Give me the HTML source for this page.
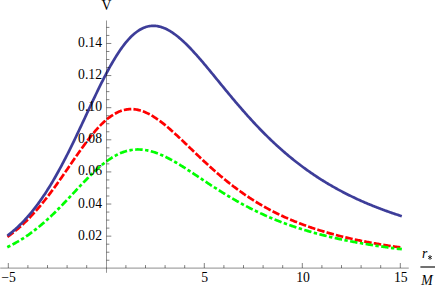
<!DOCTYPE html><html><head><meta charset="utf-8"><title>V</title><style>
html,body{margin:0;padding:0;background:#fff;}
body{width:436px;height:287px;overflow:hidden;position:relative;font-family:"Liberation Serif",serif;}
svg{position:absolute;left:0;top:0;display:block;}
</style></head><body>
<svg width="436" height="287" viewBox="0 0 436 287">
<rect width="436" height="287" fill="#fff"/>
<path d="M8.50,236.11 L9.48,235.40 L10.46,234.68 L11.44,233.94 L12.42,233.19 L13.40,232.42 L14.38,231.65 L15.36,230.85 L16.34,230.05 L17.32,229.23 L18.30,228.39 L19.28,227.54 L20.26,226.68 L21.24,225.80 L22.22,224.90 L23.20,224.00 L24.18,223.07 L25.16,222.13 L26.14,221.18 L27.12,220.21 L28.10,219.23 L29.08,218.23 L30.06,217.22 L31.04,216.19 L32.02,215.15 L33.00,214.09 L33.98,213.02 L34.96,211.93 L35.94,210.83 L36.92,209.71 L37.90,208.58 L38.88,207.43 L39.86,206.27 L40.84,205.10 L41.82,203.91 L42.80,202.71 L43.78,201.49 L44.76,200.26 L45.74,199.02 L46.72,197.76 L47.70,196.50 L48.68,195.22 L49.66,193.93 L50.64,192.62 L51.62,191.31 L52.60,189.98 L53.58,188.65 L54.56,187.30 L55.54,185.95 L56.52,184.59 L57.50,183.22 L58.48,181.84 L59.46,180.45 L60.44,179.05 L61.42,177.65 L62.40,176.25 L63.38,174.84 L64.36,173.42 L65.34,172.00 L66.32,170.58 L67.30,169.16 L68.28,167.73 L69.26,166.30 L70.24,164.88 L71.22,163.45 L72.20,162.02 L73.18,160.60 L74.16,159.18 L75.14,157.77 L76.12,156.35 L77.10,154.95 L78.08,153.55 L79.06,152.16 L80.04,150.77 L81.02,149.40 L82.00,148.03 L82.98,146.68 L83.96,145.34 L84.94,144.01 L85.92,142.69 L86.90,141.39 L87.88,140.10 L88.86,138.83 L89.84,137.58 L90.82,136.34 L91.80,135.12 L92.78,133.93 L93.76,132.75 L94.74,131.59 L95.72,130.46 L96.70,129.35 L97.68,128.26 L98.66,127.20 L99.64,126.16 L100.62,125.15 L101.60,124.16 L102.58,123.21 L103.56,122.28 L104.54,121.37 L105.52,120.50 L106.50,119.66 L107.48,118.84 L108.46,118.06 L109.44,117.31 L110.42,116.59 L111.40,115.90 L112.38,115.25 L113.36,114.62 L114.34,114.03 L115.32,113.48 L116.30,112.95 L117.28,112.46 L118.26,112.00 L119.24,111.58 L120.22,111.19 L121.20,110.84 L122.18,110.51 L123.16,110.23 L124.14,109.97 L125.12,109.75 L126.10,109.57 L127.08,109.41 L128.06,109.29 L129.04,109.21 L130.02,109.15 L131.00,109.13 L131.98,109.14 L132.96,109.19 L133.94,109.26 L134.92,109.37 L135.90,109.50 L136.88,109.67 L137.86,109.87 L138.84,110.09 L139.82,110.35 L140.80,110.63 L141.78,110.94 L142.76,111.28 L143.74,111.65 L144.72,112.04 L145.70,112.46 L146.68,112.90 L147.66,113.37 L148.64,113.86 L149.62,114.37 L150.60,114.91 L151.58,115.47 L152.56,116.05 L153.54,116.65 L154.52,117.27 L155.50,117.91 L156.48,118.57 L157.46,119.24 L158.44,119.93 L159.42,120.65 L160.40,121.37 L161.38,122.11 L162.36,122.87 L163.34,123.64 L164.32,124.42 L165.30,125.22 L166.28,126.03 L167.26,126.85 L168.24,127.68 L169.22,128.53 L170.20,129.38 L171.18,130.24 L172.16,131.11 L173.14,131.99 L174.12,132.88 L175.10,133.77 L176.08,134.67 L177.06,135.57 L178.04,136.49 L179.02,137.40 L180.00,138.32 L180.98,139.25 L181.96,140.18 L182.94,141.11 L183.92,142.05 L184.90,142.98 L185.88,143.92 L186.86,144.86 L187.84,145.80 L188.82,146.75 L189.80,147.69 L190.78,148.63 L191.76,149.58 L192.74,150.52 L193.72,151.46 L194.70,152.40 L195.68,153.34 L196.66,154.28 L197.64,155.21 L198.62,156.15 L199.60,157.08 L200.58,158.00 L201.56,158.93 L202.54,159.85 L203.52,160.77 L204.50,161.68 L205.48,162.59 L206.46,163.50 L207.44,164.40 L208.42,165.30 L209.40,166.19 L210.38,167.08 L211.36,167.96 L212.34,168.84 L213.32,169.71 L214.30,170.58 L215.28,171.44 L216.26,172.30 L217.24,173.15 L218.22,174.00 L219.20,174.84 L220.18,175.67 L221.16,176.50 L222.14,177.32 L223.12,178.14 L224.10,178.95 L225.08,179.75 L226.06,180.55 L227.04,181.34 L228.02,182.13 L229.00,182.91 L229.98,183.68 L230.96,184.45 L231.94,185.21 L232.92,185.96 L233.90,186.71 L234.88,187.45 L235.86,188.19 L236.84,188.92 L237.82,189.64 L238.80,190.35 L239.78,191.06 L240.76,191.76 L241.74,192.46 L242.72,193.15 L243.70,193.83 L244.68,194.51 L245.66,195.18 L246.64,195.85 L247.62,196.50 L248.60,197.15 L249.58,197.80 L250.56,198.44 L251.54,199.07 L252.52,199.70 L253.50,200.32 L254.48,200.93 L255.46,201.54 L256.44,202.15 L257.42,202.74 L258.40,203.33 L259.38,203.92 L260.36,204.50 L261.34,205.07 L262.32,205.64 L263.30,206.20 L264.28,206.75 L265.26,207.30 L266.24,207.85 L267.22,208.39 L268.20,208.92 L269.18,209.45 L270.16,209.97 L271.14,210.49 L272.12,211.00 L273.10,211.50 L274.08,212.00 L275.06,212.50 L276.04,212.99 L277.02,213.48 L278.00,213.96 L278.98,214.43 L279.96,214.90 L280.94,215.37 L281.92,215.83 L282.90,216.28 L283.88,216.73 L284.86,217.18 L285.84,217.62 L286.82,218.06 L287.80,218.49 L288.78,218.92 L289.76,219.34 L290.74,219.76 L291.72,220.18 L292.70,220.59 L293.68,220.99 L294.66,221.39 L295.64,221.79 L296.62,222.18 L297.60,222.57 L298.58,222.96 L299.56,223.34 L300.54,223.71 L301.52,224.09 L302.50,224.46 L303.48,224.82 L304.46,225.18 L305.44,225.54 L306.42,225.89 L307.40,226.24 L308.38,226.59 L309.36,226.93 L310.34,227.27 L311.32,227.61 L312.30,227.94 L313.28,228.27 L314.26,228.59 L315.24,228.91 L316.22,229.23 L317.20,229.55 L318.18,229.86 L319.16,230.17 L320.14,230.47 L321.12,230.77 L322.10,231.07 L323.08,231.37 L324.06,231.66 L325.04,231.95 L326.02,232.24 L327.00,232.52 L327.98,232.80 L328.96,233.08 L329.94,233.36 L330.92,233.63 L331.90,233.90 L332.88,234.16 L333.86,234.43 L334.84,234.69 L335.82,234.95 L336.80,235.20 L337.78,235.46 L338.76,235.71 L339.74,235.96 L340.72,236.20 L341.70,236.45 L342.68,236.69 L343.66,236.93 L344.64,237.16 L345.62,237.40 L346.60,237.63 L347.58,237.86 L348.56,238.08 L349.54,238.31 L350.52,238.53 L351.50,238.75 L352.48,238.97 L353.46,239.18 L354.44,239.40 L355.42,239.61 L356.40,239.82 L357.38,240.03 L358.36,240.23 L359.34,240.44 L360.32,240.64 L361.30,240.84 L362.28,241.03 L363.26,241.23 L364.24,241.42 L365.22,241.62 L366.20,241.81 L367.18,241.99 L368.16,242.18 L369.14,242.36 L370.12,242.55 L371.10,242.73 L372.08,242.91 L373.06,243.09 L374.04,243.26 L375.02,243.44 L376.00,243.61 L376.98,243.78 L377.96,243.95 L378.94,244.12 L379.92,244.28 L380.90,244.45 L381.88,244.61 L382.86,244.77 L383.84,244.93 L384.82,245.09 L385.80,245.25 L386.78,245.40 L387.76,245.56 L388.74,245.71 L389.72,245.86 L390.70,246.01 L391.68,246.16 L392.66,246.31 L393.64,246.45 L394.62,246.60 L395.60,246.74 L396.58,246.88 L397.56,247.02 L398.54,247.16 L399.52,247.30 L400.50,247.44" stroke="#ff0000" stroke-width="2.70" fill="none" stroke-linecap="square" stroke-dasharray="4.84 4.84"/>
<path d="M8.50,246.57 L9.48,246.09 L10.46,245.59 L11.44,245.09 L12.42,244.58 L13.40,244.06 L14.38,243.53 L15.36,242.99 L16.34,242.44 L17.32,241.88 L18.30,241.31 L19.28,240.72 L20.26,240.13 L21.24,239.53 L22.22,238.92 L23.20,238.30 L24.18,237.66 L25.16,237.02 L26.14,236.36 L27.12,235.70 L28.10,235.02 L29.08,234.33 L30.06,233.63 L31.04,232.92 L32.02,232.20 L33.00,231.47 L33.98,230.73 L34.96,229.98 L35.94,229.21 L36.92,228.44 L37.90,227.65 L38.88,226.86 L39.86,226.05 L40.84,225.23 L41.82,224.40 L42.80,223.56 L43.78,222.71 L44.76,221.85 L45.74,220.98 L46.72,220.10 L47.70,219.21 L48.68,218.31 L49.66,217.40 L50.64,216.48 L51.62,215.56 L52.60,214.62 L53.58,213.68 L54.56,212.72 L55.54,211.76 L56.52,210.79 L57.50,209.81 L58.48,208.83 L59.46,207.84 L60.44,206.84 L61.42,205.83 L62.40,204.82 L63.38,203.81 L64.36,202.78 L65.34,201.76 L66.32,200.73 L67.30,199.69 L68.28,198.66 L69.26,197.62 L70.24,196.57 L71.22,195.53 L72.20,194.48 L73.18,193.43 L74.16,192.39 L75.14,191.34 L76.12,190.29 L77.10,189.24 L78.08,188.20 L79.06,187.16 L80.04,186.12 L81.02,185.08 L82.00,184.05 L82.98,183.03 L83.96,182.00 L84.94,180.99 L85.92,179.98 L86.90,178.98 L87.88,177.99 L88.86,177.00 L89.84,176.02 L90.82,175.06 L91.80,174.10 L92.78,173.16 L93.76,172.22 L94.74,171.30 L95.72,170.39 L96.70,169.49 L97.68,168.61 L98.66,167.75 L99.64,166.89 L100.62,166.06 L101.60,165.24 L102.58,164.43 L103.56,163.64 L104.54,162.87 L105.52,162.12 L106.50,161.39 L107.48,160.68 L108.46,159.98 L109.44,159.31 L110.42,158.66 L111.40,158.02 L112.38,157.41 L113.36,156.82 L114.34,156.25 L115.32,155.70 L116.30,155.18 L117.28,154.67 L118.26,154.19 L119.24,153.74 L120.22,153.30 L121.20,152.89 L122.18,152.50 L123.16,152.14 L124.14,151.80 L125.12,151.48 L126.10,151.18 L127.08,150.91 L128.06,150.67 L129.04,150.44 L130.02,150.24 L131.00,150.07 L131.98,149.91 L132.96,149.78 L133.94,149.67 L134.92,149.59 L135.90,149.53 L136.88,149.49 L137.86,149.47 L138.84,149.48 L139.82,149.50 L140.80,149.55 L141.78,149.62 L142.76,149.71 L143.74,149.82 L144.72,149.95 L145.70,150.10 L146.68,150.28 L147.66,150.47 L148.64,150.68 L149.62,150.90 L150.60,151.15 L151.58,151.41 L152.56,151.69 L153.54,151.99 L154.52,152.31 L155.50,152.64 L156.48,152.99 L157.46,153.35 L158.44,153.72 L159.42,154.12 L160.40,154.52 L161.38,154.94 L162.36,155.37 L163.34,155.82 L164.32,156.28 L165.30,156.74 L166.28,157.23 L167.26,157.72 L168.24,158.22 L169.22,158.73 L170.20,159.26 L171.18,159.79 L172.16,160.33 L173.14,160.88 L174.12,161.44 L175.10,162.00 L176.08,162.57 L177.06,163.15 L178.04,163.74 L179.02,164.33 L180.00,164.93 L180.98,165.54 L181.96,166.15 L182.94,166.76 L183.92,167.38 L184.90,168.01 L185.88,168.63 L186.86,169.26 L187.84,169.90 L188.82,170.54 L189.80,171.18 L190.78,171.82 L191.76,172.46 L192.74,173.11 L193.72,173.76 L194.70,174.41 L195.68,175.06 L196.66,175.71 L197.64,176.36 L198.62,177.01 L199.60,177.67 L200.58,178.32 L201.56,178.97 L202.54,179.62 L203.52,180.27 L204.50,180.92 L205.48,181.57 L206.46,182.22 L207.44,182.87 L208.42,183.51 L209.40,184.16 L210.38,184.80 L211.36,185.44 L212.34,186.08 L213.32,186.71 L214.30,187.35 L215.28,187.98 L216.26,188.61 L217.24,189.23 L218.22,189.86 L219.20,190.48 L220.18,191.09 L221.16,191.71 L222.14,192.32 L223.12,192.93 L224.10,193.53 L225.08,194.13 L226.06,194.73 L227.04,195.32 L228.02,195.91 L229.00,196.50 L229.98,197.08 L230.96,197.66 L231.94,198.24 L232.92,198.81 L233.90,199.38 L234.88,199.94 L235.86,200.50 L236.84,201.06 L237.82,201.61 L238.80,202.16 L239.78,202.71 L240.76,203.25 L241.74,203.78 L242.72,204.32 L243.70,204.84 L244.68,205.37 L245.66,205.89 L246.64,206.40 L247.62,206.91 L248.60,207.42 L249.58,207.93 L250.56,208.43 L251.54,208.92 L252.52,209.41 L253.50,209.90 L254.48,210.38 L255.46,210.86 L256.44,211.33 L257.42,211.81 L258.40,212.27 L259.38,212.73 L260.36,213.19 L261.34,213.65 L262.32,214.10 L263.30,214.54 L264.28,214.99 L265.26,215.43 L266.24,215.86 L267.22,216.29 L268.20,216.72 L269.18,217.14 L270.16,217.56 L271.14,217.97 L272.12,218.39 L273.10,218.79 L274.08,219.20 L275.06,219.60 L276.04,219.99 L277.02,220.39 L278.00,220.77 L278.98,221.16 L279.96,221.54 L280.94,221.92 L281.92,222.29 L282.90,222.67 L283.88,223.03 L284.86,223.40 L285.84,223.76 L286.82,224.11 L287.80,224.47 L288.78,224.82 L289.76,225.17 L290.74,225.51 L291.72,225.85 L292.70,226.19 L293.68,226.52 L294.66,226.85 L295.64,227.18 L296.62,227.50 L297.60,227.83 L298.58,228.14 L299.56,228.46 L300.54,228.77 L301.52,229.08 L302.50,229.39 L303.48,229.69 L304.46,229.99 L305.44,230.29 L306.42,230.58 L307.40,230.87 L308.38,231.16 L309.36,231.45 L310.34,231.73 L311.32,232.01 L312.30,232.29 L313.28,232.56 L314.26,232.84 L315.24,233.11 L316.22,233.37 L317.20,233.64 L318.18,233.90 L319.16,234.16 L320.14,234.42 L321.12,234.67 L322.10,234.93 L323.08,235.18 L324.06,235.42 L325.04,235.67 L326.02,235.91 L327.00,236.15 L327.98,236.39 L328.96,236.62 L329.94,236.86 L330.92,237.09 L331.90,237.32 L332.88,237.55 L333.86,237.77 L334.84,237.99 L335.82,238.21 L336.80,238.43 L337.78,238.65 L338.76,238.86 L339.74,239.08 L340.72,239.29 L341.70,239.49 L342.68,239.70 L343.66,239.91 L344.64,240.11 L345.62,240.31 L346.60,240.51 L347.58,240.70 L348.56,240.90 L349.54,241.09 L350.52,241.28 L351.50,241.47 L352.48,241.66 L353.46,241.85 L354.44,242.03 L355.42,242.21 L356.40,242.39 L357.38,242.57 L358.36,242.75 L359.34,242.93 L360.32,243.10 L361.30,243.27 L362.28,243.45 L363.26,243.62 L364.24,243.78 L365.22,243.95 L366.20,244.12 L367.18,244.28 L368.16,244.44 L369.14,244.60 L370.12,244.76 L371.10,244.92 L372.08,245.07 L373.06,245.23 L374.04,245.38 L375.02,245.53 L376.00,245.69 L376.98,245.83 L377.96,245.98 L378.94,246.13 L379.92,246.27 L380.90,246.42 L381.88,246.56 L382.86,246.70 L383.84,246.84 L384.82,246.98 L385.80,247.12 L386.78,247.26 L387.76,247.39 L388.74,247.53 L389.72,247.66 L390.70,247.79 L391.68,247.92 L392.66,248.05 L393.64,248.18 L394.62,248.31 L395.60,248.43 L396.58,248.56 L397.56,248.68 L398.54,248.80 L399.52,248.93 L400.50,249.05" stroke="#00ff00" stroke-width="2.70" fill="none" stroke-linecap="square" stroke-dasharray="0.70 5.15 4.75 5.15"/>
<path d="M8.50,234.88 L9.48,234.12 L10.46,233.33 L11.44,232.53 L12.42,231.72 L13.40,230.88 L14.38,230.03 L15.36,229.17 L16.34,228.28 L17.32,227.38 L18.30,226.46 L19.28,225.52 L20.26,224.57 L21.24,223.59 L22.22,222.60 L23.20,221.59 L24.18,220.56 L25.16,219.50 L26.14,218.43 L27.12,217.34 L28.10,216.23 L29.08,215.10 L30.06,213.95 L31.04,212.78 L32.02,211.58 L33.00,210.37 L33.98,209.14 L34.96,207.88 L35.94,206.60 L36.92,205.30 L37.90,203.98 L38.88,202.64 L39.86,201.28 L40.84,199.89 L41.82,198.49 L42.80,197.06 L43.78,195.61 L44.76,194.13 L45.74,192.64 L46.72,191.12 L47.70,189.58 L48.68,188.02 L49.66,186.44 L50.64,184.84 L51.62,183.21 L52.60,181.57 L53.58,179.90 L54.56,178.21 L55.54,176.50 L56.52,174.78 L57.50,173.03 L58.48,171.26 L59.46,169.47 L60.44,167.66 L61.42,165.83 L62.40,163.99 L63.38,162.12 L64.36,160.24 L65.34,158.34 L66.32,156.43 L67.30,154.50 L68.28,152.55 L69.26,150.59 L70.24,148.61 L71.22,146.62 L72.20,144.61 L73.18,142.60 L74.16,140.57 L75.14,138.53 L76.12,136.48 L77.10,134.42 L78.08,132.35 L79.06,130.28 L80.04,128.20 L81.02,126.11 L82.00,124.02 L82.98,121.92 L83.96,119.82 L84.94,117.72 L85.92,115.62 L86.90,113.51 L87.88,111.41 L88.86,109.31 L89.84,107.21 L90.82,105.12 L91.80,103.03 L92.78,100.95 L93.76,98.88 L94.74,96.82 L95.72,94.76 L96.70,92.72 L97.68,90.69 L98.66,88.68 L99.64,86.67 L100.62,84.69 L101.60,82.72 L102.58,80.77 L103.56,78.84 L104.54,76.93 L105.52,75.04 L106.50,73.17 L107.48,71.33 L108.46,69.51 L109.44,67.72 L110.42,65.96 L111.40,64.22 L112.38,62.52 L113.36,60.84 L114.34,59.20 L115.32,57.58 L116.30,56.00 L117.28,54.46 L118.26,52.95 L119.24,51.47 L120.22,50.03 L121.20,48.63 L122.18,47.27 L123.16,45.94 L124.14,44.65 L125.12,43.41 L126.10,42.20 L127.08,41.04 L128.06,39.91 L129.04,38.83 L130.02,37.79 L131.00,36.79 L131.98,35.84 L132.96,34.93 L133.94,34.06 L134.92,33.23 L135.90,32.45 L136.88,31.72 L137.86,31.02 L138.84,30.37 L139.82,29.77 L140.80,29.21 L141.78,28.69 L142.76,28.22 L143.74,27.79 L144.72,27.40 L145.70,27.05 L146.68,26.75 L147.66,26.49 L148.64,26.28 L149.62,26.10 L150.60,25.97 L151.58,25.88 L152.56,25.83 L153.54,25.82 L154.52,25.84 L155.50,25.91 L156.48,26.02 L157.46,26.16 L158.44,26.34 L159.42,26.56 L160.40,26.81 L161.38,27.10 L162.36,27.43 L163.34,27.79 L164.32,28.18 L165.30,28.60 L166.28,29.06 L167.26,29.55 L168.24,30.07 L169.22,30.62 L170.20,31.20 L171.18,31.80 L172.16,32.44 L173.14,33.10 L174.12,33.79 L175.10,34.50 L176.08,35.24 L177.06,36.01 L178.04,36.79 L179.02,37.60 L180.00,38.43 L180.98,39.28 L181.96,40.16 L182.94,41.05 L183.92,41.96 L184.90,42.89 L185.88,43.84 L186.86,44.80 L187.84,45.78 L188.82,46.78 L189.80,47.79 L190.78,48.81 L191.76,49.85 L192.74,50.90 L193.72,51.96 L194.70,53.04 L195.68,54.13 L196.66,55.22 L197.64,56.33 L198.62,57.45 L199.60,58.57 L200.58,59.70 L201.56,60.84 L202.54,61.99 L203.52,63.15 L204.50,64.31 L205.48,65.47 L206.46,66.65 L207.44,67.82 L208.42,69.00 L209.40,70.19 L210.38,71.37 L211.36,72.56 L212.34,73.76 L213.32,74.95 L214.30,76.15 L215.28,77.35 L216.26,78.55 L217.24,79.75 L218.22,80.95 L219.20,82.15 L220.18,83.35 L221.16,84.54 L222.14,85.74 L223.12,86.94 L224.10,88.13 L225.08,89.33 L226.06,90.52 L227.04,91.71 L228.02,92.89 L229.00,94.08 L229.98,95.26 L230.96,96.44 L231.94,97.61 L232.92,98.78 L233.90,99.95 L234.88,101.11 L235.86,102.27 L236.84,103.42 L237.82,104.57 L238.80,105.71 L239.78,106.85 L240.76,107.99 L241.74,109.12 L242.72,110.24 L243.70,111.36 L244.68,112.47 L245.66,113.58 L246.64,114.68 L247.62,115.78 L248.60,116.87 L249.58,117.96 L250.56,119.03 L251.54,120.11 L252.52,121.17 L253.50,122.23 L254.48,123.29 L255.46,124.33 L256.44,125.37 L257.42,126.41 L258.40,127.44 L259.38,128.46 L260.36,129.47 L261.34,130.48 L262.32,131.48 L263.30,132.48 L264.28,133.46 L265.26,134.44 L266.24,135.42 L267.22,136.39 L268.20,137.35 L269.18,138.30 L270.16,139.25 L271.14,140.19 L272.12,141.12 L273.10,142.05 L274.08,142.97 L275.06,143.88 L276.04,144.79 L277.02,145.69 L278.00,146.58 L278.98,147.46 L279.96,148.34 L280.94,149.22 L281.92,150.08 L282.90,150.94 L283.88,151.79 L284.86,152.64 L285.84,153.48 L286.82,154.31 L287.80,155.13 L288.78,155.95 L289.76,156.77 L290.74,157.57 L291.72,158.37 L292.70,159.16 L293.68,159.95 L294.66,160.73 L295.64,161.51 L296.62,162.27 L297.60,163.03 L298.58,163.79 L299.56,164.54 L300.54,165.28 L301.52,166.02 L302.50,166.75 L303.48,167.47 L304.46,168.19 L305.44,168.90 L306.42,169.61 L307.40,170.31 L308.38,171.00 L309.36,171.69 L310.34,172.38 L311.32,173.05 L312.30,173.73 L313.28,174.39 L314.26,175.05 L315.24,175.71 L316.22,176.36 L317.20,177.00 L318.18,177.64 L319.16,178.27 L320.14,178.90 L321.12,179.52 L322.10,180.14 L323.08,180.75 L324.06,181.35 L325.04,181.96 L326.02,182.55 L327.00,183.14 L327.98,183.73 L328.96,184.31 L329.94,184.88 L330.92,185.46 L331.90,186.02 L332.88,186.58 L333.86,187.14 L334.84,187.69 L335.82,188.24 L336.80,188.78 L337.78,189.32 L338.76,189.85 L339.74,190.38 L340.72,190.91 L341.70,191.42 L342.68,191.94 L343.66,192.45 L344.64,192.96 L345.62,193.46 L346.60,193.96 L347.58,194.45 L348.56,194.94 L349.54,195.43 L350.52,195.91 L351.50,196.38 L352.48,196.86 L353.46,197.33 L354.44,197.79 L355.42,198.25 L356.40,198.71 L357.38,199.16 L358.36,199.61 L359.34,200.06 L360.32,200.50 L361.30,200.94 L362.28,201.37 L363.26,201.80 L364.24,202.23 L365.22,202.66 L366.20,203.08 L367.18,203.49 L368.16,203.90 L369.14,204.31 L370.12,204.72 L371.10,205.12 L372.08,205.52 L373.06,205.92 L374.04,206.31 L375.02,206.70 L376.00,207.09 L376.98,207.47 L377.96,207.85 L378.94,208.23 L379.92,208.60 L380.90,208.97 L381.88,209.34 L382.86,209.70 L383.84,210.07 L384.82,210.42 L385.80,210.78 L386.78,211.13 L387.76,211.48 L388.74,211.83 L389.72,212.17 L390.70,212.51 L391.68,212.85 L392.66,213.19 L393.64,213.52 L394.62,213.85 L395.60,214.18 L396.58,214.50 L397.56,214.83 L398.54,215.15 L399.52,215.46 L400.50,215.78" stroke="#3d3d99" stroke-width="2.70" fill="none" stroke-linecap="square"/>
<path d="M0.20,268.10 H408.79" stroke="#000" stroke-width="0.45" fill="none"/>
<path d="M106.50,20.50 V272.81" stroke="#000" stroke-width="0.42" fill="none"/>
<path d="M8.30,268.00 v-5.00 M27.90,268.00 v-2.90 M47.50,268.00 v-2.90 M67.10,268.00 v-2.90 M86.70,268.00 v-2.90 M125.90,268.00 v-2.90 M145.50,268.00 v-2.90 M165.10,268.00 v-2.90 M184.70,268.00 v-2.90 M204.30,268.00 v-5.00 M223.90,268.00 v-2.90 M243.50,268.00 v-2.90 M263.10,268.00 v-2.90 M282.70,268.00 v-2.90 M302.30,268.00 v-5.00 M321.90,268.00 v-2.90 M341.50,268.00 v-2.90 M361.10,268.00 v-2.90 M380.70,268.00 v-2.90 M400.30,268.00 v-5.00 M106.50,260.24 h2.90 M106.50,252.21 h2.90 M106.50,244.18 h2.90 M106.50,236.15 h4.80 M106.50,228.12 h2.90 M106.50,220.10 h2.90 M106.50,212.07 h2.90 M106.50,204.04 h4.80 M106.50,196.01 h2.90 M106.50,187.98 h2.90 M106.50,179.95 h2.90 M106.50,171.92 h4.80 M106.50,163.89 h2.90 M106.50,155.86 h2.90 M106.50,147.83 h2.90 M106.50,139.81 h4.80 M106.50,131.78 h2.90 M106.50,123.75 h2.90 M106.50,115.72 h2.90 M106.50,107.69 h4.80 M106.50,99.66 h2.90 M106.50,91.63 h2.90 M106.50,83.60 h2.90 M106.50,75.57 h4.80 M106.50,67.54 h2.90 M106.50,59.52 h2.90 M106.50,51.49 h2.90 M106.50,43.46 h4.80 M106.50,35.43 h2.90 M106.50,27.40 h2.90" stroke="#000" stroke-width="0.50" fill="none"/>
<g font-family="'Liberation Serif', serif" font-size="13.7" fill="#000">
<text x="102" y="239.65" text-anchor="end">0.02</text>
<text x="102" y="207.54" text-anchor="end">0.04</text>
<text x="102" y="175.42" text-anchor="end">0.06</text>
<text x="102" y="143.3" text-anchor="end">0.08</text>
<text x="102" y="111.19" text-anchor="end">0.10</text>
<text x="102" y="79.07" text-anchor="end">0.12</text>
<text x="102" y="46.96" text-anchor="end">0.14</text>
<text x="8.5" y="282" text-anchor="middle">−5</text>
<text x="204.6" y="282" text-anchor="middle">5</text>
<text x="303.1" y="282" text-anchor="middle">10</text>
<text x="400.8" y="282" text-anchor="middle">15</text>
<text x="106.4" y="9.9" text-anchor="middle">V</text>
<text x="422" y="257.5" font-style="italic">r</text>
<text x="427" y="285.2" font-style="italic" text-anchor="middle">M</text>
</g>
<path d="M430,255 V259.9 M428.1,256.25 L431.9,258.65 M428.1,258.65 L431.9,256.25" stroke="#000" stroke-width="0.75" fill="none"/>
<path d="M420.4,267 H435" stroke="#000" stroke-width="1.12" fill="none"/>
</svg></body></html>
